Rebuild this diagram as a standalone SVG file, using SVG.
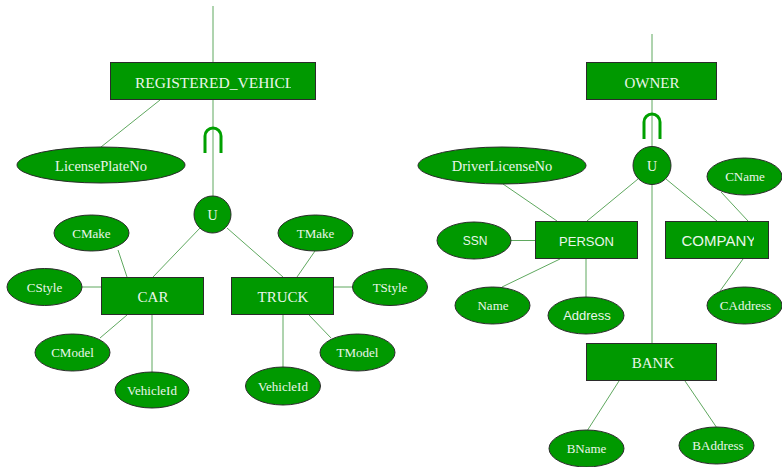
<svg xmlns="http://www.w3.org/2000/svg" width="782" height="467" viewBox="0 0 782 467">
  <defs>
    <style>
      .ent { fill: #009900; stroke: #2b2b2b; stroke-width: 1; }
      .att { fill: #009900; stroke: #2b2b2b; stroke-width: 1; }
      .conn line { stroke: #5fa85f; stroke-width: 1; fill: none; }
      .sub { stroke: #00a000; stroke-width: 3; fill: none; }
      .t { fill: #eaf6ea; font-family: "Liberation Serif", "Times New Roman", serif; text-anchor: middle; }
      .s { fill: #eaf6ea; font-family: "Liberation Sans", Arial, sans-serif; text-anchor: middle; }
      .big { font-size: 15px; }
      .sm { font-size: 13px; }
    </style>
    <clipPath id="clipReg"><rect x="110" y="62" width="181" height="38"/></clipPath>
    <clipPath id="clipCompany"><rect x="665" y="221" width="89" height="38"/></clipPath>
  </defs>

  <!-- connectors -->
  <g id="connectors" class="conn">
    <line x1="213" y1="6" x2="213" y2="62"/>
    <line x1="213" y1="100" x2="213" y2="196"/>
    <line x1="160" y1="100" x2="101" y2="147"/>
    <line x1="200" y1="228" x2="153" y2="277"/>
    <line x1="227" y1="228" x2="283" y2="277"/>
    <line x1="118" y1="250" x2="127" y2="277"/>
    <line x1="82" y1="287" x2="101" y2="287"/>
    <line x1="100" y1="338" x2="127" y2="315"/>
    <line x1="152" y1="315" x2="152" y2="372"/>
    <line x1="315" y1="251" x2="297" y2="277"/>
    <line x1="334" y1="287" x2="352" y2="287"/>
    <line x1="331" y1="338" x2="309" y2="315"/>
    <line x1="283" y1="315" x2="283" y2="367"/>
    <line x1="652" y1="34" x2="652" y2="62"/>
    <line x1="652" y1="100" x2="652" y2="147"/>
    <line x1="652" y1="184" x2="652" y2="343"/>
    <line x1="638" y1="179" x2="587" y2="221"/>
    <line x1="666" y1="179" x2="717" y2="221"/>
    <line x1="503" y1="184" x2="557" y2="221"/>
    <line x1="721" y1="192" x2="748" y2="221"/>
    <line x1="511" y1="240.5" x2="535" y2="240.5"/>
    <line x1="502" y1="287" x2="560" y2="259"/>
    <line x1="586" y1="259" x2="586" y2="297"/>
    <line x1="720" y1="291" x2="743" y2="259"/>
    <line x1="619" y1="381" x2="587" y2="431"/>
    <line x1="685" y1="381" x2="717" y2="428"/>
    <!-- subset symbols -->
    <path class="sub" d="M205,153 V136 A8,8 0 0 1 221,136 V153"/>
    <path class="sub" d="M644,139 V122 A8,8 0 0 1 660,122 V139"/>
  </g>

  <!-- vehicle side -->
  <g id="registered_vehicle">
    <rect class="ent" x="110.5" y="62.5" width="205" height="37"/>
    <text class="t" x="135" y="88" font-size="15.5" clip-path="url(#clipReg)" style="text-anchor:start">REGISTERED_VEHICL</text>
  </g>
  <g id="license_plate_no">
    <ellipse class="att" cx="101" cy="165" rx="84" ry="18"/>
    <text class="t" x="101" y="170.5" font-size="14.5">LicensePlateNo</text>
  </g>
  <g id="union_vehicle">
    <circle class="att" cx="212.5" cy="214.5" r="18.5"/>
    <text class="t" x="212.5" y="219.5" font-size="14">U</text>
  </g>
  <g id="car">
    <rect class="ent" x="101.5" y="277.5" width="102" height="37"/>
    <text class="t big" x="153" y="302">CAR</text>
  </g>
  <g id="truck">
    <rect class="ent" x="231.5" y="277.5" width="102" height="37"/>
    <text class="t big" x="283" y="302">TRUCK</text>
  </g>
  <g id="cmake">
    <ellipse class="att" cx="91.5" cy="233" rx="37.5" ry="18"/>
    <text class="t sm" x="91.5" y="237.5">CMake</text>
  </g>
  <g id="cstyle">
    <ellipse class="att" cx="44.5" cy="287" rx="37.5" ry="18.5"/>
    <text class="t sm" x="44.5" y="291.5">CStyle</text>
  </g>
  <g id="cmodel">
    <ellipse class="att" cx="72.5" cy="352.5" rx="37.5" ry="18.5"/>
    <text class="t sm" x="72.5" y="357">CModel</text>
  </g>
  <g id="car_vehicle_id">
    <ellipse class="att" cx="152" cy="390" rx="37" ry="18"/>
    <text class="t sm" x="152" y="394.5">VehicleId</text>
  </g>
  <g id="tmake">
    <ellipse class="att" cx="315.5" cy="233" rx="37.5" ry="18"/>
    <text class="t sm" x="315.5" y="237.5">TMake</text>
  </g>
  <g id="tstyle">
    <ellipse class="att" cx="390" cy="287" rx="37.5" ry="18.5"/>
    <text class="t sm" x="390" y="291.5">TStyle</text>
  </g>
  <g id="tmodel">
    <ellipse class="att" cx="357.5" cy="352.5" rx="37.5" ry="18.5"/>
    <text class="t sm" x="357.5" y="357">TModel</text>
  </g>
  <g id="truck_vehicle_id">
    <ellipse class="att" cx="283" cy="386" rx="37.5" ry="19"/>
    <text class="t sm" x="283" y="390.5">VehicleId</text>
  </g>

  <!-- owner side -->
  <g id="owner">
    <rect class="ent" x="586.5" y="62.5" width="130" height="37"/>
    <text class="t big" x="652" y="87.5">OWNER</text>
  </g>
  <g id="union_owner">
    <circle class="att" cx="652" cy="165.5" r="19"/>
    <text class="t" x="652" y="170.5" font-size="14">U</text>
  </g>
  <g id="driver_license_no">
    <ellipse class="att" cx="502" cy="165.5" rx="84" ry="18.5"/>
    <text class="t" x="502" y="171" font-size="14.5">DriverLicenseNo</text>
  </g>
  <g id="person">
    <rect class="ent" x="535.5" y="221.5" width="102" height="37"/>
    <text class="s" x="586.5" y="245.5" font-size="13">PERSON</text>
  </g>
  <g id="company">
    <rect class="ent" x="665.5" y="221.5" width="103" height="37"/>
    <text class="s" x="681.5" y="246" font-size="15" clip-path="url(#clipCompany)" style="text-anchor:start">COMPANY</text>
  </g>
  <g id="cname">
    <ellipse class="att" cx="744.5" cy="176.5" rx="37.5" ry="18.5"/>
    <text class="t sm" x="745" y="181">CName</text>
  </g>
  <g id="ssn">
    <ellipse class="att" cx="474" cy="240.5" rx="37" ry="18.5"/>
    <text class="s" x="475" y="245" font-size="12">SSN</text>
  </g>
  <g id="name">
    <ellipse class="att" cx="492.5" cy="305.5" rx="37.5" ry="18.5"/>
    <text class="t sm" x="493" y="310">Name</text>
  </g>
  <g id="address">
    <ellipse class="att" cx="586" cy="315.5" rx="38" ry="18.5"/>
    <text class="s" x="587" y="320" font-size="13">Address</text>
  </g>
  <g id="caddress">
    <ellipse class="att" cx="744.5" cy="305.5" rx="37.5" ry="18.5"/>
    <text class="t sm" x="745.5" y="310">CAddress</text>
  </g>
  <g id="bank">
    <rect class="ent" x="586.5" y="343.5" width="130" height="37"/>
    <text class="t big" x="653" y="368">BANK</text>
  </g>
  <g id="bname">
    <ellipse class="att" cx="586.5" cy="448.5" rx="37.5" ry="18.5"/>
    <text class="t sm" x="586.5" y="453">BName</text>
  </g>
  <g id="baddress">
    <ellipse class="att" cx="716.5" cy="445.5" rx="37.5" ry="18.5"/>
    <text class="t sm" x="718" y="450">BAddress</text>
  </g>
</svg>
